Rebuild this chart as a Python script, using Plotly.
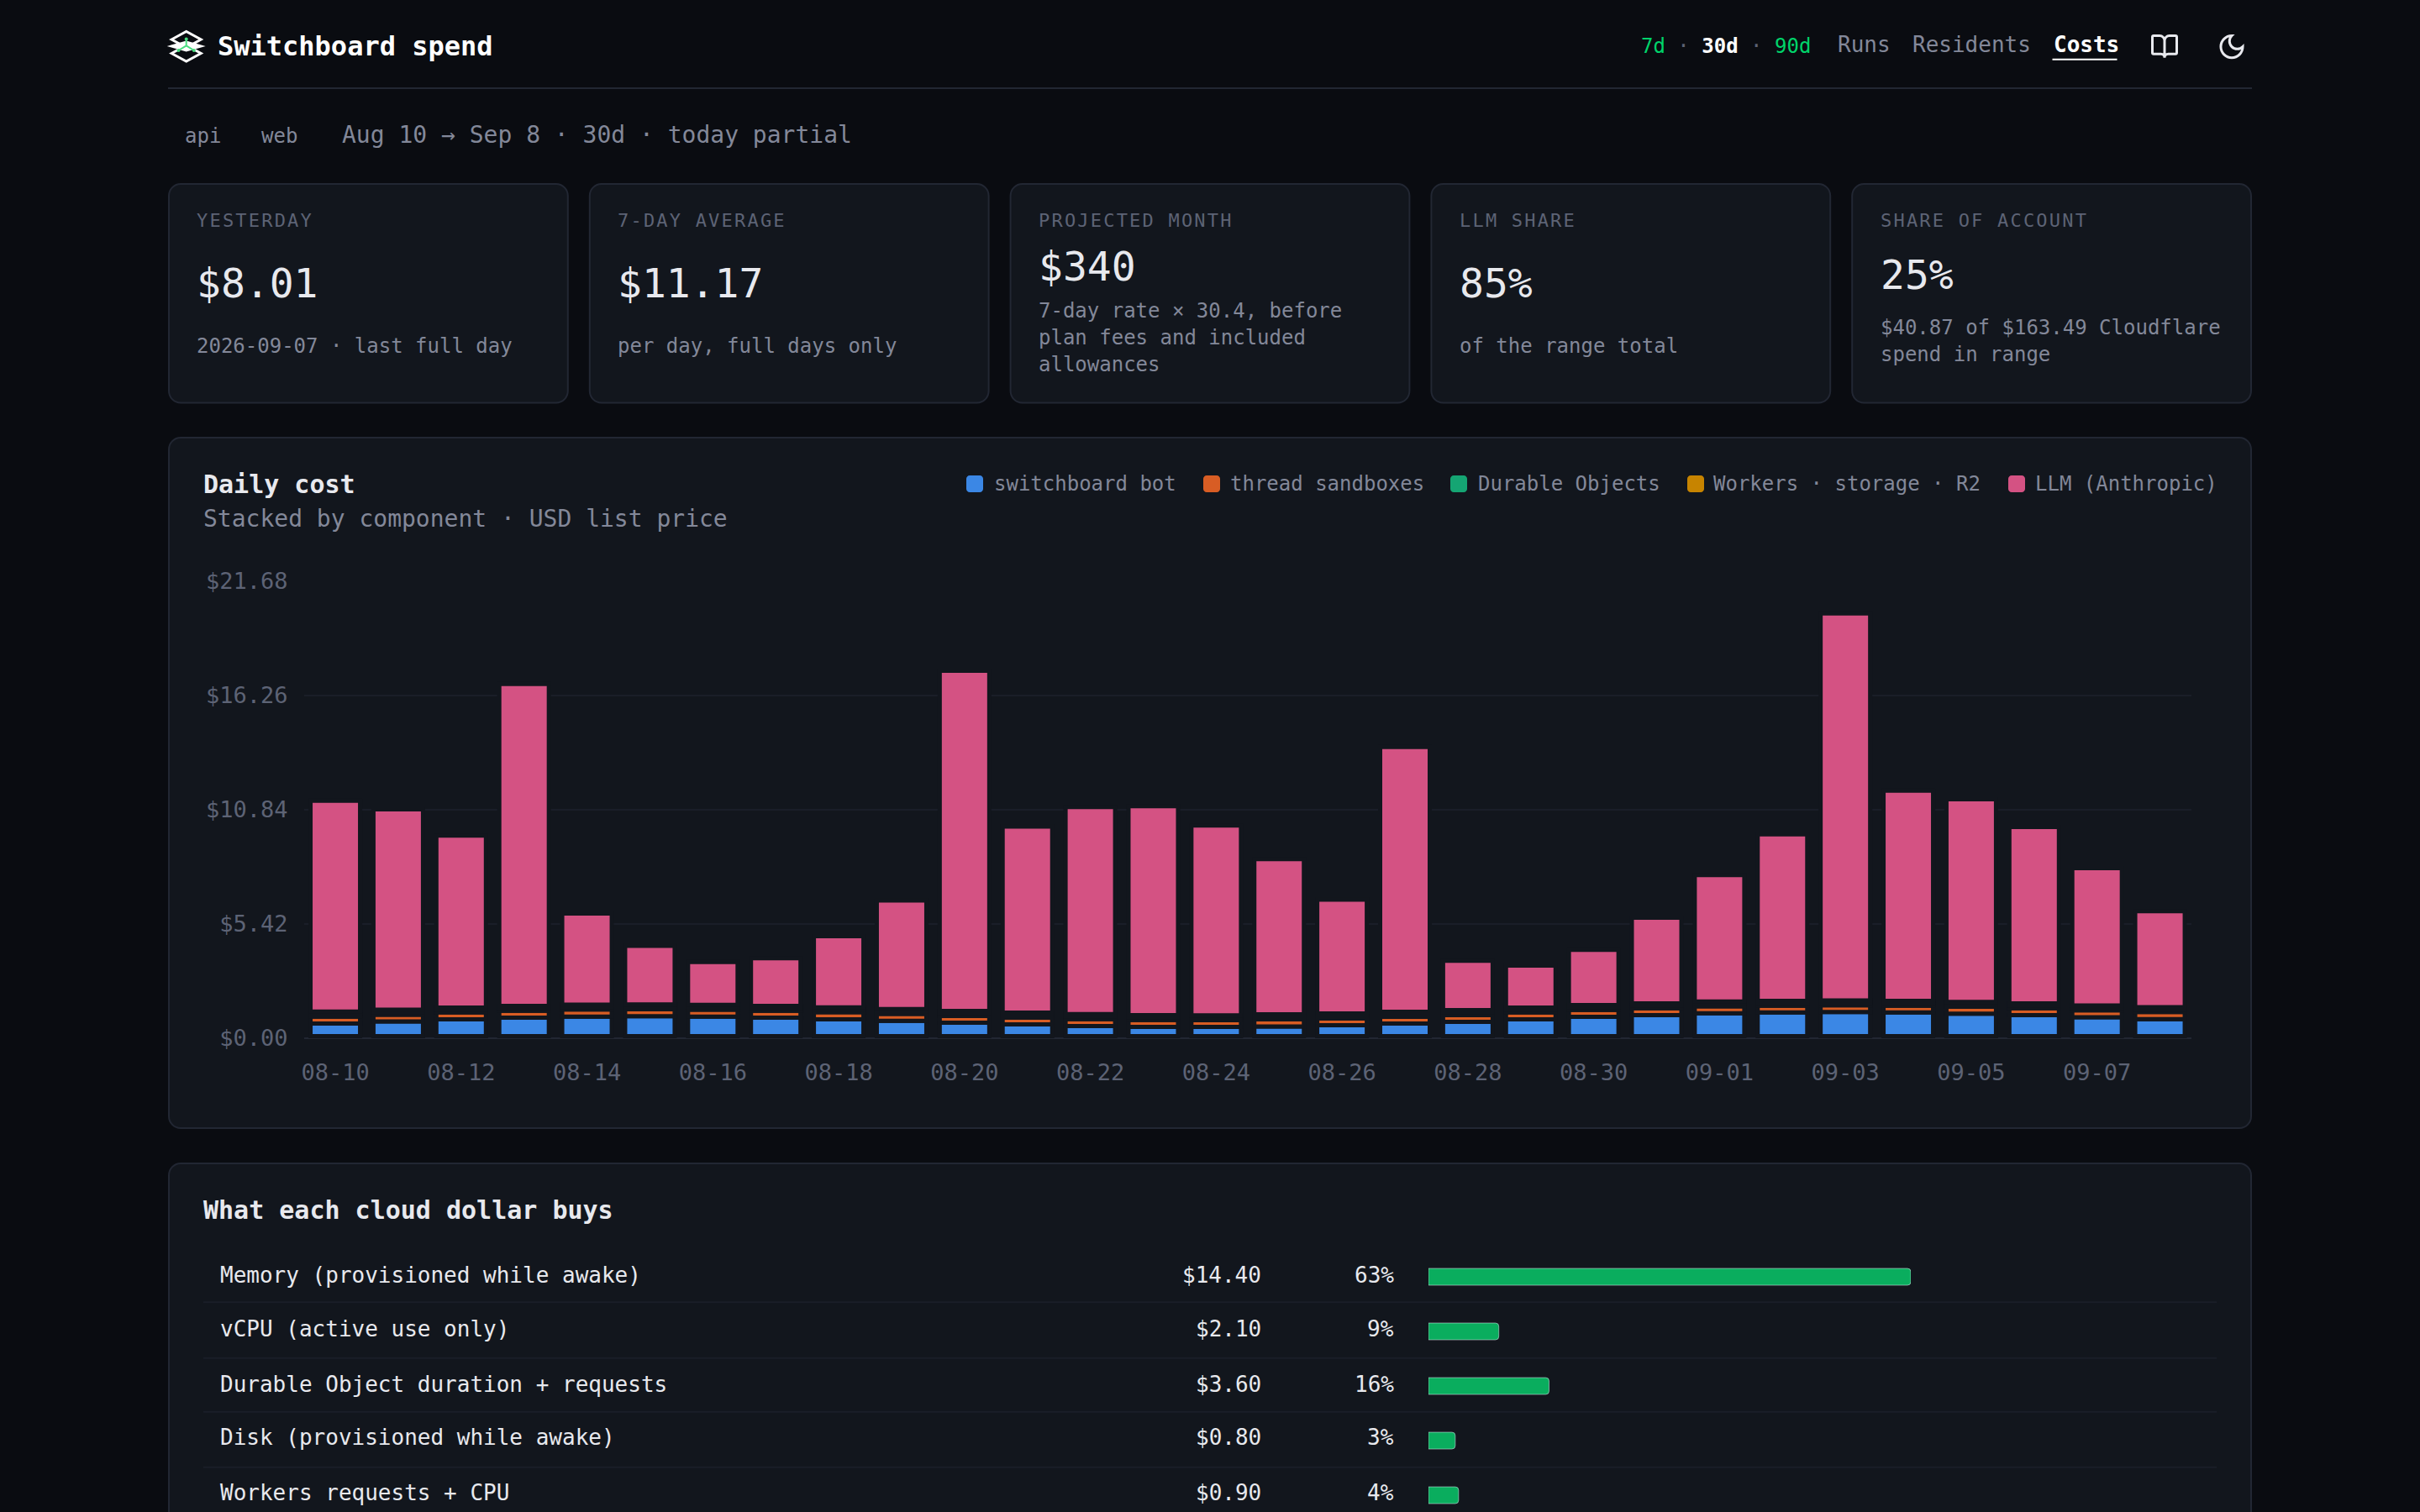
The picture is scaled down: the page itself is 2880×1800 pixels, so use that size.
import numpy as np
import plotly.graph_objects as go

W = 2880
H = 1800
FONT = "DejaVu Sans Mono"

PAGE_BG = "#0a0c11"
CARD_BG = "#12161d"
BORDER = "#222733"
GRID = "#1a1e28"
TEXT = "#e8e9ee"
MUTED = "#838899"
FAINT = "#5d6375"

# daily cost chart
DAYS = ["08-10", "08-11", "08-12", "08-13", "08-14", "08-15", "08-16", "08-17", "08-18", "08-19",
        "08-20", "08-21", "08-22", "08-23", "08-24", "08-25", "08-26", "08-27", "08-28", "08-29",
        "08-30", "08-31", "09-01", "09-02", "09-03", "09-04", "09-05", "09-06", "09-07", "09-08"]
BOT = [0.60, 0.70, 0.80, 0.88, 0.93, 0.95, 0.93, 0.88, 0.80, 0.73,
       0.64, 0.56, 0.48, 0.44, 0.44, 0.46, 0.52, 0.60, 0.68, 0.80,
       0.92, 1.00, 1.08, 1.12, 1.14, 1.12, 1.06, 1.00, 0.90, 0.81]
SANDBOX = [0.33, 0.32, 0.32, 0.32, 0.33, 0.32, 0.32, 0.32, 0.33, 0.32,
           0.32, 0.32, 0.33, 0.33, 0.32, 0.34, 0.32, 0.32, 0.32, 0.32,
           0.32, 0.32, 0.33, 0.32, 0.32, 0.32, 0.33, 0.32, 0.32, 0.33]
DURABLE = [0.12] * 30
WORKERS = [0.11] * 30
LLM = [10.00, 9.50, 8.16, 15.27, 4.32, 2.78, 2.03, 2.26, 3.38, 5.15,
       16.13, 8.83, 9.82, 9.90, 9.00, 7.36, 5.40, 12.56, 2.34, 1.99,
       2.62, 4.06, 6.00, 7.90, 18.35, 9.97, 9.61, 8.37, 6.51, 4.55]
Y_TICKS = [0, 5.42, 10.84, 16.26, 21.68]
Y_LABELS = ["$0.00", "$5.42", "$10.84", "$16.26", "$21.68"]
SERIES_NAMES = ["switchboard bot", "thread sandboxes", "Durable Objects", "Workers · storage · R2", "LLM (Anthropic)"]
SERIES_COLORS = ["#3b87e5", "#d85d24", "#15a573", "#c78400", "#d45283"]
BAR_FLOOR = 0.1

# cloud dollar table
ROWS = ["Memory (provisioned while awake)", "vCPU (active use only)", "Durable Object duration + requests",
        "Disk (provisioned while awake)", "Workers requests + CPU"]
ROW_COST = [14.40, 2.10, 3.60, 0.80, 0.90]
ROW_SHARE = ["63%", "9%", "16%", "3%", "4%"]

# stat cards
CARD_LABELS = ["YESTERDAY", "7-DAY AVERAGE", "PROJECTED MONTH", "LLM SHARE", "SHARE OF ACCOUNT"]
CARD_VALUES = ["$8.01", "$11.17", "$340", "85%", "25%"]
CARD_NOTES = [["2026-09-07 · last full day"],
              ["per day, full days only"],
              ["7-day rate × 30.4, before", "plan fees and included", "allowances"],
              ["of the range total"],
              ["$40.87 of $163.49 Cloudflare", "spend in range"]]


def px(x):
    return x / W


def py(y):
    return 1 - y / H


def add_text(x, y, text, size, color, anchor="left", weight=None):
    # left anchored annotations sit a little inside their anchor
    x = x - 0.7 if anchor == "left" else x
    fig.add_annotation(xref="paper", yref="paper", x=px(x), y=py(y), text=text, showarrow=False,
                       xanchor=anchor, yanchor="middle", align=anchor, borderpad=0,
                       font=dict(family=FONT, size=size, color=color, weight=weight))


def round_rect(x0, y0, x1, y1, r, fill, line=None):
    k = r * 0.45
    d = (f"M {px(x0 + r)} {py(y0)} L {px(x1 - r)} {py(y0)} "
         f"C {px(x1 - k)} {py(y0)} {px(x1)} {py(y0 + k)} {px(x1)} {py(y0 + r)} "
         f"L {px(x1)} {py(y1 - r)} "
         f"C {px(x1)} {py(y1 - k)} {px(x1 - k)} {py(y1)} {px(x1 - r)} {py(y1)} "
         f"L {px(x0 + r)} {py(y1)} "
         f"C {px(x0 + k)} {py(y1)} {px(x0)} {py(y1 - k)} {px(x0)} {py(y1 - r)} "
         f"L {px(x0)} {py(y0 + r)} "
         f"C {px(x0)} {py(y0 + k)} {px(x0 + k)} {py(y0)} {px(x0 + r)} {py(y0)} Z")
    fig.add_shape(type="path", path=d, xref="paper", yref="paper", fillcolor=fill, layer="below",
                  line=dict(color=line, width=2 if line else 0))


def rule(x0, x1, y, color):
    fig.add_shape(type="line", xref="paper", yref="paper", x0=px(x0), x1=px(x1), y0=py(y), y1=py(y),
                  layer="below", line=dict(color=color, width=2))


def icon(cx, cy, scale, parts, color, width=3, fill=None):
    # parts are on a 24 unit icon grid, centred on 12,12
    out = []
    for cmd, *nums in parts:
        pts = []
        for i in range(0, len(nums), 2):
            pts.append(f"{px(cx + (nums[i] - 12) * scale)} {py(cy + (nums[i + 1] - 12) * scale)}")
        out.append(cmd + " " + " ".join(pts))
    fig.add_shape(type="path", path=" ".join(out), xref="paper", yref="paper",
                  fillcolor=fill or "rgba(0,0,0,0)", line=dict(color=color, width=width))


fig = go.Figure()

# stacked bars, each segment sits on the sum of the ones under it
segments = [BOT, SANDBOX, DURABLE, WORKERS, LLM]
base = np.full(len(DAYS), BAR_FLOOR)
for name, color, values in zip(SERIES_NAMES, SERIES_COLORS, segments):
    fig.add_trace(go.Bar(x=DAYS, y=values, base=base.copy(), name=name, width=0.788,
                         marker=dict(color=color, line=dict(color=CARD_BG, width=5)),
                         xaxis="x", yaxis="y", showlegend=False))
    base = base + np.array(values)

fig.add_trace(go.Bar(x=ROW_COST, y=ROWS, orientation="h", width=20 / 65, xaxis="x2", yaxis="y2",
                     marker=dict(color="#0aad5e", cornerradius=4), showlegend=False))

fig.update_layout(
    width=W, height=H, autosize=False, margin=dict(l=0, r=0, t=0, b=0, pad=0, autoexpand=False),
    paper_bgcolor=PAGE_BG, plot_bgcolor="rgba(0,0,0,0)", barmode="overlay",
    font=dict(family=FONT, color=MUTED),
    xaxis=dict(domain=[px(361.6), px(2608)], type="category", categoryorder="array", categoryarray=DAYS,
               tickmode="array", tickvals=DAYS[::2], ticktext=DAYS[::2], showgrid=False, zeroline=False,
               showline=False, ticks="", ticklabelstandoff=22, tickangle=0,
               tickfont=dict(family=FONT, size=27, color=FAINT), anchor="y"),
    yaxis=dict(domain=[py(1236), py(691.6)], range=[0, 21.68], tickmode="array", tickvals=Y_TICKS,
               ticktext=Y_LABELS, showgrid=True, gridcolor=GRID, gridwidth=2, zeroline=True,
               zerolinecolor=BORDER, zerolinewidth=2, showline=False, ticks="", ticklabelstandoff=18,
               tickfont=dict(family=FONT, size=27, color=FAINT), anchor="x"),
    xaxis2=dict(domain=[px(1700), px(2274)], range=[0, 14.4], visible=False, anchor="y2"),
    yaxis2=dict(domain=[0, py(1487.5)], type="category", categoryorder="array", categoryarray=ROWS,
                range=[4.307, -0.5], visible=False, anchor="x2"),
)

# header
add_text(259, 55, "Switchboard spend", 32, "#ffffff", weight=700)
add_text(1952.6, 55, '<span style="color:#00d46a">7d</span> <span style="color:#5d6375">·</span> '
                     '<b style="color:#ffffff">30d</b> <span style="color:#5d6375">·</span> '
                     '<span style="color:#00d46a">90d</span>', 24, MUTED)
add_text(2186.5, 53.5, "Runs", 26, MUTED)
add_text(2276, 53.5, "Residents", 26, MUTED)
add_text(2443.5, 53.5, "Costs", 26, "#ffffff", weight=700)
fig.add_shape(type="line", xref="paper", yref="paper", x0=px(2442.5), x1=px(2519.5), y0=py(70.7), y1=py(70.7),
              line=dict(color="#ffffff", width=2))
rule(200, 2680, 105, BORDER)

# logo: three stacked layers with a small green graph in the middle
for cy, fill in [(47, None), (63.5, None), (55, "#ffffff")]:
    icon(221.7, cy, 1, [("M", -5.5, 12), ("L", 12, 12 - (9.5 if not fill else 5)),
                        ("L", 29.5, 12), ("L", 12, 12 + (9.5 if not fill else 5)), ("Z",)],
         "#ffffff", width=3, fill=fill)
for dot in [(221.7, 46.5), (212.5, 60), (230.8, 60)]:
    fig.add_shape(type="line", xref="paper", yref="paper", x0=px(221.7), y0=py(54.3), x1=px(dot[0]), y1=py(dot[1]),
                  line=dict(color="#4ade80", width=2))
    fig.add_shape(type="circle", xref="paper", yref="paper", x0=px(dot[0] - 2), x1=px(dot[0] + 2),
                  y0=py(dot[1] + 2), y1=py(dot[1] - 2), fillcolor="#4ade80", line=dict(width=0))

# book and moon buttons
book = [("M", 3, 18), ("Q", 2, 18, 2, 17), ("L", 2, 4), ("Q", 2, 3, 3, 3), ("L", 8, 3),
        ("C", 10.2, 3, 12, 4.8, 12, 7), ("C", 12, 4.8, 13.8, 3, 16, 3), ("L", 21, 3), ("Q", 22, 3, 22, 4),
        ("L", 22, 17), ("Q", 22, 18, 21, 18), ("L", 15, 18), ("C", 13.3, 18, 12, 19.3, 12, 21),
        ("C", 12, 19.3, 10.7, 18, 9, 18), ("Z",), ("M", 12, 7), ("L", 12, 21)]
moon = [("M", 12, 3), ("C", 9.5, 5.5, 9.5, 9.5, 12, 12), ("C", 14.5, 14.5, 18.5, 14.5, 21, 12),
        ("C", 21, 16.97, 16.97, 21, 12, 21), ("C", 7.03, 21, 3, 16.97, 3, 12), ("C", 3, 7.03, 7.03, 3, 12, 3), ("Z",)]
icon(2576, 55.6, 1.45, book, TEXT)
icon(2656, 55.6, 1.45, moon, TEXT)

# range line
add_text(219.8, 161.5, "api", 24, MUTED)
add_text(311, 161.5, "web", 24, MUTED)
add_text(406.4, 160.7, "Aug 10 → Sep 8 · 30d · today partial", 28, MUTED)

# stat cards
card_w = (2480 - 4 * 24) / 5
value_y = [336.7, 336.7, 316.7, 336.7, 326.7]
note_y = [[412.3], [412.3], [370, 401.7, 434], [412.3], [390, 422.3]]
for i in range(5):
    left = 200 + i * (card_w + 24)
    round_rect(left + 1, 219, left + card_w - 1, 479.5, 14, CARD_BG, BORDER)
    add_text(left + 34, 262.3, CARD_LABELS[i], 22, FAINT)
    add_text(left + 34, value_y[i], CARD_VALUES[i], 48, TEXT)
    for line, y in zip(CARD_NOTES[i], note_y[i]):
        add_text(left + 34, y, line, 24, MUTED)

# daily cost card
round_rect(201, 521, 2679, 1343, 14, CARD_BG, BORDER)
add_text(242, 576, "Daily cost", 30, TEXT, weight=700)
add_text(242, 617, "Stacked by component · USD list price", 28, MUTED)
swatch_x = [1150, 1432, 1726, 2008, 2390]
legend_x = [1182.6, 1464, 1759, 2039, 2421.5]
for name, color, sx, tx in zip(SERIES_NAMES, SERIES_COLORS, swatch_x, legend_x):
    round_rect(sx, 566, sx + 20, 586, 4, color)
    add_text(tx, 576, name, 24, MUTED)

# table card, runs off the bottom of the page
round_rect(201, 1385, 2679, 1840, 14, CARD_BG, BORDER)
add_text(242, 1440.7, "What each cloud dollar buys", 30, TEXT, weight=700)
for y in [1550.3, 1616.7, 1680.7, 1746.7]:
    rule(242, 2638, y, GRID)
row_y = [1518, 1582, 1648, 1711.3, 1777.3]
for name, cost, share, y in zip(ROWS, ROW_COST, ROW_SHARE, row_y):
    add_text(261.3, y, name, 26, TEXT)
    add_text(1501.8, y, f"${cost:.2f}", 26, TEXT, anchor="right")
    add_text(1660, y, share, 26, TEXT, anchor="right")

post = ("document.documentElement.style.overflow='hidden';document.body.style.margin='0';"
        "var labels=" + str(CARD_LABELS) + ";"
        "document.querySelectorAll('.annotation-text').forEach(function(t){"
        "if(labels.indexOf(t.textContent)>=0){t.setAttribute('letter-spacing','2.2');}});")

fig.write_html("out.html", post_script=post, config={"displayModeBar": False})
